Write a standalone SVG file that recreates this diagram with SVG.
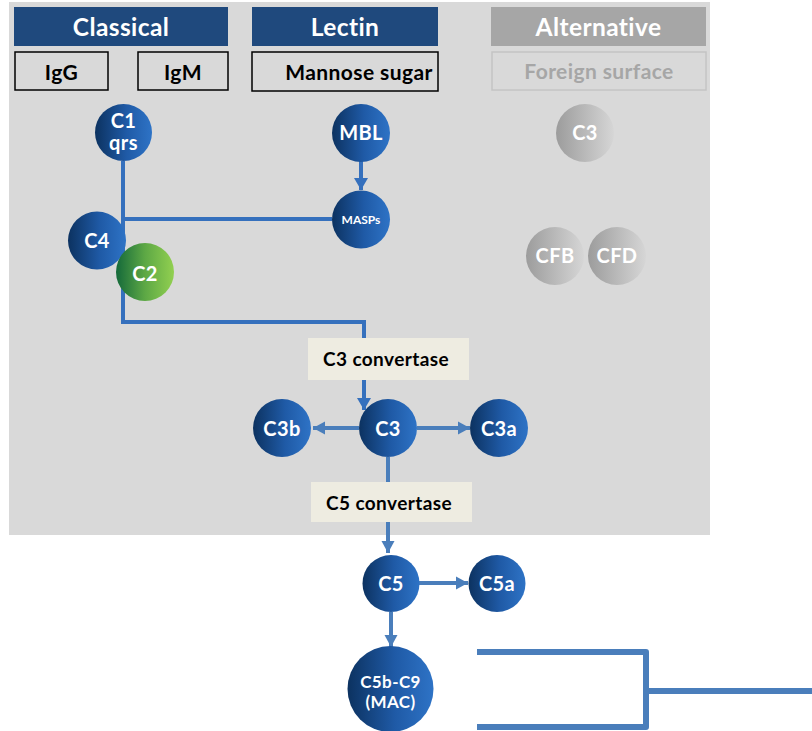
<svg xmlns="http://www.w3.org/2000/svg" width="812" height="731" viewBox="0 0 812 731">
  <defs>
    <linearGradient id="gBlue" x1="0" y1="0" x2="1" y2="0">
      <stop offset="0" stop-color="#0c3260"/>
      <stop offset="0.55" stop-color="#1f5aa6"/>
      <stop offset="1" stop-color="#2e73c6"/>
    </linearGradient>
    <linearGradient id="gGreen" x1="0" y1="0" x2="1" y2="0">
      <stop offset="0" stop-color="#14693a"/>
      <stop offset="0.5" stop-color="#5da845"/>
      <stop offset="1" stop-color="#92d050"/>
    </linearGradient>
    <linearGradient id="gGrey" x1="0" y1="0" x2="1" y2="0">
      <stop offset="0" stop-color="#9c9c9c"/>
      <stop offset="1" stop-color="#d6d6d6"/>
    </linearGradient>
    <marker id="arr" markerUnits="userSpaceOnUse" markerWidth="16" markerHeight="16" refX="12" refY="8" orient="auto">
      <path d="M0,1 L12,8 L0,15 Z" fill="#3570bd"/>
    </marker>
    <marker id="arrL" markerUnits="userSpaceOnUse" markerWidth="16" markerHeight="16" refX="12" refY="8" orient="auto">
      <path d="M0,1.5 L12,8 L0,14.5 Z" fill="#4a7ebb"/>
    </marker>
  </defs>
  <style>
    text { font-family: Lato, "Liberation Sans", sans-serif; font-weight: bold; text-anchor: middle; letter-spacing: 0.4px; }
    .hdr { fill: #ffffff; font-size: 24.5px; }
    .src { fill: #000000; font-size: 21px; }
    .node { fill: #ffffff; font-size: 20px; }
    .conv { fill: #000000; font-size: 19px; }
    .line { fill: none; stroke: #3570bd; stroke-width: 4; }
    .lineL { fill: none; stroke: #4a7ebb; stroke-width: 4; }
  </style>

  <!-- background panel -->
  <rect x="9" y="2" width="701" height="533" fill="#d9d9d9"/>

  <!-- pathway headers -->
  <g id="classical">
    <rect x="14" y="7" width="214" height="39" fill="#1f497d"/>
    <text class="hdr" x="121" y="35.5">Classical</text>
  </g>
  <g id="lectin">
    <rect x="252" y="7" width="186" height="39" fill="#1f497d"/>
    <text class="hdr" x="345" y="35.5">Lectin</text>
  </g>
  <g id="alternative">
    <rect x="491" y="7" width="215" height="39" fill="#a6a6a6"/>
    <text class="hdr" x="598.5" y="35.5">Alternative</text>
  </g>

  <!-- activators -->
  <g id="igg">
    <rect x="15" y="52" width="93" height="38" fill="none" stroke="#000" stroke-width="1.5"/>
    <text class="src" x="61.5" y="79.5">IgG</text>
  </g>
  <g id="igm">
    <rect x="138" y="52" width="90" height="38" fill="none" stroke="#000" stroke-width="1.5"/>
    <text class="src" x="183" y="79.5">IgM</text>
  </g>
  <g id="mannose">
    <rect x="252" y="52" width="186" height="39" fill="none" stroke="#000" stroke-width="1.5"/>
    <text class="src" x="359" y="80">Mannose sugar</text>
  </g>
  <g id="foreign-surface">
    <rect x="492" y="52" width="214" height="38" fill="none" stroke="#c4c4c4" stroke-width="1.5"/>
    <text class="src" x="599" y="79" style="fill:#a6a6a6">Foreign surface</text>
  </g>

  <!-- connectors -->
  <g id="connectors">
    <polyline class="line" points="123,161 123,322 364,322 364,338"/>
    <line class="line" x1="123" y1="219" x2="332" y2="219"/>
    <line class="line" x1="361" y1="161" x2="361" y2="190" marker-end="url(#arr)"/>
    <line class="line" x1="364" y1="380" x2="364" y2="410" marker-end="url(#arr)"/>
    <line class="lineL" x1="359" y1="428" x2="313" y2="428" marker-end="url(#arrL)"/>
    <line class="lineL" x1="417" y1="428" x2="470" y2="428" marker-end="url(#arrL)"/>
    <line class="lineL" x1="388" y1="457" x2="388" y2="482"/>
    <line class="lineL" x1="388" y1="522" x2="388" y2="553" marker-end="url(#arrL)"/>
    <line class="lineL" x1="419" y1="583" x2="468" y2="583" marker-end="url(#arrL)"/>
    <line class="lineL" x1="391" y1="612" x2="391" y2="647" marker-end="url(#arrL)"/>
    <!-- bracket on the right of MAC -->
    <polyline fill="none" stroke="#4a7ebb" stroke-width="6" stroke-linejoin="round" points="477,652 646,652 646,727 477,727"/>
    <line x1="646" y1="691" x2="812" y2="691" stroke="#4a7ebb" stroke-width="6"/>
  </g>

  <!-- classical pathway nodes -->
  <g id="c1">
    <circle cx="123.5" cy="132.5" r="28.5" fill="url(#gBlue)"/>
    <text class="node" x="123.5" y="127.5">C1</text>
    <text class="node" x="123.5" y="150">qrs</text>
  </g>
  <g id="c4">
    <circle cx="97" cy="240.5" r="29" fill="url(#gBlue)"/>
    <text class="node" x="97" y="248">C4</text>
  </g>
  <g id="c2">
    <circle cx="145" cy="272" r="29" fill="url(#gGreen)"/>
    <text class="node" x="145" y="280.5">C2</text>
  </g>

  <!-- lectin pathway nodes -->
  <g id="mbl">
    <circle cx="361" cy="133" r="29" fill="url(#gBlue)"/>
    <text class="node" x="361" y="140">MBL</text>
  </g>
  <g id="masps">
    <circle cx="361" cy="219.5" r="29" fill="url(#gBlue)"/>
    <text class="node" x="361" y="224" style="font-size:12px;letter-spacing:0">MASPs</text>
  </g>

  <!-- alternative pathway nodes -->
  <g id="alt-c3">
    <circle cx="585" cy="133" r="29" fill="url(#gGrey)"/>
    <text class="node" x="585" y="140">C3</text>
  </g>
  <g id="cfb">
    <circle cx="555" cy="256" r="29" fill="url(#gGrey)"/>
    <text class="node" x="555" y="263">CFB</text>
  </g>
  <g id="cfd">
    <circle cx="617" cy="256" r="29" fill="url(#gGrey)"/>
    <text class="node" x="617" y="263">CFD</text>
  </g>

  <!-- common pathway -->
  <g id="c3-convertase">
    <rect x="308" y="338" width="161" height="42" fill="#eeece1"/>
    <text class="conv" x="386" y="365.5">C3 convertase</text>
  </g>
  <g id="c3">
    <circle cx="388" cy="428" r="29" fill="url(#gBlue)"/>
    <text class="node" x="388" y="435.5">C3</text>
  </g>
  <g id="c3b">
    <circle cx="282" cy="428" r="29" fill="url(#gBlue)"/>
    <text class="node" x="282" y="436">C3b</text>
  </g>
  <g id="c3a">
    <circle cx="499" cy="428" r="29" fill="url(#gBlue)"/>
    <text class="node" x="499" y="436">C3a</text>
  </g>
  <g id="c5-convertase">
    <rect x="311" y="482" width="161" height="40" fill="#eeece1"/>
    <text class="conv" x="389" y="509.5">C5 convertase</text>
  </g>
  <g id="c5">
    <circle cx="391" cy="583.5" r="28.5" fill="url(#gBlue)"/>
    <text class="node" x="391" y="591">C5</text>
  </g>
  <g id="c5a">
    <circle cx="497" cy="583.5" r="28.5" fill="url(#gBlue)"/>
    <text class="node" x="497" y="591">C5a</text>
  </g>
  <g id="mac">
    <circle cx="390.5" cy="689" r="43" fill="url(#gBlue)"/>
    <text class="node" x="390.5" y="687.5" style="font-size:17px">C5b-C9</text>
    <text class="node" x="390.5" y="708" style="font-size:17px">(MAC)</text>
  </g>
</svg>
